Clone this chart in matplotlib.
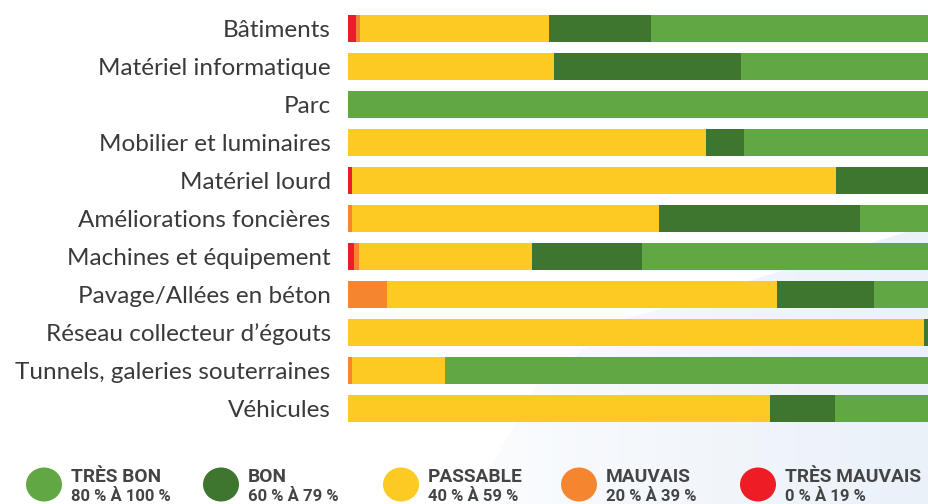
import matplotlib
matplotlib.use("Agg")
import matplotlib.pyplot as plt
import numpy as np
from matplotlib.patches import Ellipse, Polygon

categories = [
    "Bâtiments",
    "Matériel informatique",
    "Parc",
    "Mobilier et luminaires",
    "Matériel lourd",
    "Améliorations foncières",
    "Machines et équipement",
    "Pavage/Allées en béton",
    "Réseau collecteur d’égouts",
    "Tunnels, galeries souterraines",
    "Véhicules",
]
tres_mauvais = [1.4, 0, 0, 0, 0.7, 0, 1.0, 0, 0, 0, 0]
mauvais = [0.7, 0, 0, 0, 0, 0.7, 0.9, 6.7, 0, 0.7, 0]
passable = [32.5, 35.5, 0, 61.6, 83.3, 52.8, 29.8, 67.1, 99.1, 16.0, 72.6]
bon = [17.6, 32.2, 0, 6.5, 16.0, 34.6, 18.9, 16.7, 0.9, 0, 11.2]
tres_bon = [47.8, 32.3, 100, 31.9, 0, 11.9, 49.4, 9.5, 0, 83.3, 16.2]

series = [tres_mauvais, mauvais, passable, bon, tres_bon]
colors = ["#EE1C25", "#F5862F", "#FDCA24", "#3E7630", "#61A744"]

legend_titles = ["TRÈS BON", "BON", "PASSABLE", "MAUVAIS", "TRÈS MAUVAIS"]
legend_ranges = ["80 % À 100 %", "60 % À 79 %", "40 % À 59 %", "20 % À 39 %", "0 % À 19 %"]
legend_colors = ["#61A744", "#3E7630", "#FDCA24", "#F5862F", "#EE1C25"]

W, H = 929, 504
fig = plt.figure(figsize=(W / 100, H / 100), dpi=100)
fig.patch.set_facecolor("white")

# background / legend overlay in pixel coordinates
bg = fig.add_axes([0, 0, 1, 1], zorder=-1)
bg.set_xlim(0, W)
bg.set_ylim(H, 0)
bg.axis("off")
grad = np.linspace(0, 1, 200)[None, :] ** 0.8
img = np.ones((10, 200, 3))
c = np.array([0.92, 0.945, 0.975])
img = img * (1 - grad[..., None]) + c * grad[..., None]
im = bg.imshow(img, extent=[420, W, H, 220], aspect="auto", zorder=0)
poly = Polygon([(W, 225), (797, 266), (630, 318), (540, 380), (470, H), (W, H)],
               closed=True, transform=bg.transData, facecolor="none", edgecolor="none")
bg.add_patch(poly)
im.set_clip_path(poly)

xs = [44, 221, 401, 579, 758]
for x, t, r, col in zip(xs, legend_titles, legend_ranges, legend_colors):
    bg.add_patch(Ellipse((x, 484.5), 36, 34, facecolor=col, edgecolor="none", zorder=2))
    bg.text(x + 27, 482, t, fontsize=13.8, fontweight="bold", color="#444444",
            family="Roboto", va="baseline", ha="left", zorder=3)
    bg.text(x + 27, 501, r, fontsize=12, fontweight="bold", color="#444444",
            family="Roboto", va="baseline", ha="left", zorder=3)

ax = fig.add_axes([348 / W, 1 - 427.5 / H, 581 / W, 418 / H])
ax.set_facecolor("none")
y = np.arange(len(categories))
left = np.zeros(len(categories))
for vals, col in zip(series, colors):
    vals = np.array(vals, dtype=float)
    ax.barh(y, vals, left=left, height=0.71, color=col, edgecolor="none")
    left += vals
ax.set_xlim(0, 100)
ax.set_ylim(len(categories) - 0.5, -0.5)
ax.set_yticks(y, labels=categories)
ax.tick_params(axis="y", length=0, pad=12.5, labelsize=17.5, labelcolor="#3a3a3a")
for lab in ax.get_yticklabels():
    lab.set_family("Lato")
ax.xaxis.set_visible(False)
for s in ax.spines.values():
    s.set_visible(False)

fig.savefig("out.png", dpi=100)
